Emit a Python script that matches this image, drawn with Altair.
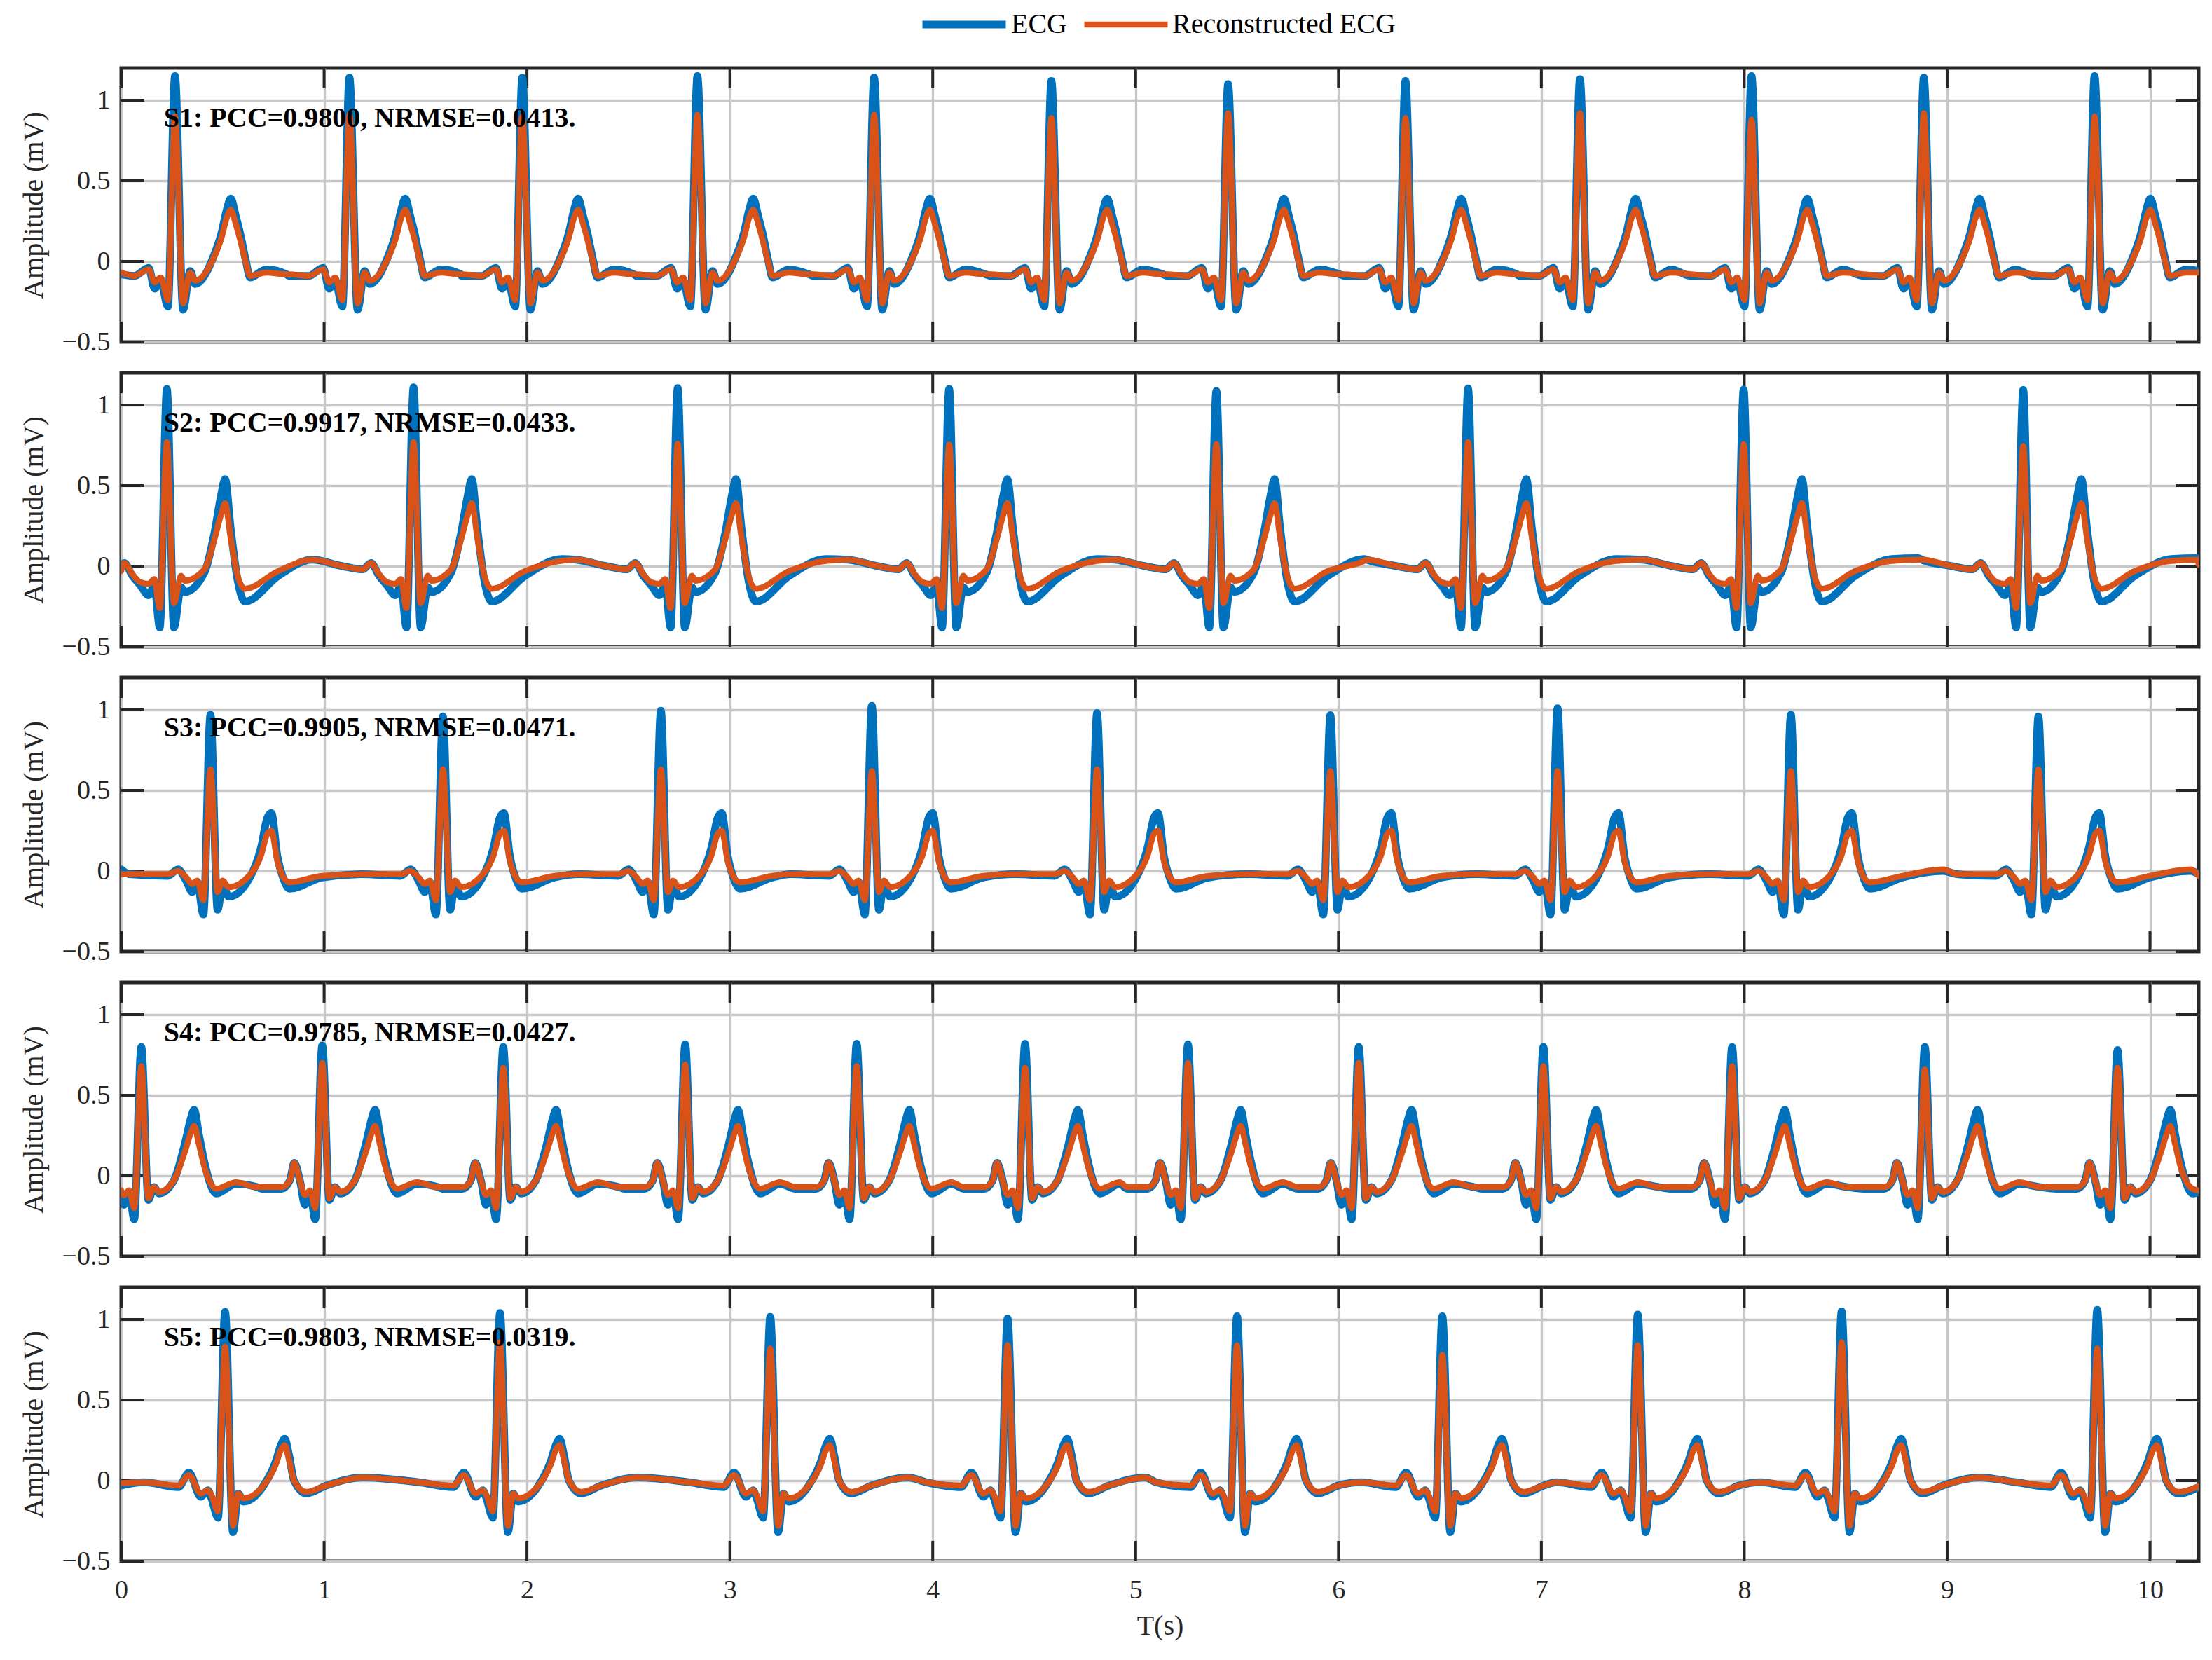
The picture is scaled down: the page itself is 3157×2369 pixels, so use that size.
import altair as alt
import pandas as pd

FONT = "Liberation Serif"
T_END = 10.24
SERIES = ["ECG", "Reconstructed ECG"]
COLORS = ["#0072BD", "#D95319"]
LINE_WIDTHS = [11, 8.5]
X_TICKS = [0, 1, 2, 3, 4, 5, 6, 7, 8, 9, 10]
Y_TICKS = [-0.5, 0, 0.5, 1]
LABELS = [
    "S1: PCC=0.9800, NRMSE=0.0413.",
    "S2: PCC=0.9917, NRMSE=0.0433.",
    "S3: PCC=0.9905, NRMSE=0.0471.",
    "S4: PCC=0.9785, NRMSE=0.0427.",
    "S5: PCC=0.9803, NRMSE=0.0319.",
]

# ---- S1 ----
P1_R = [0.265, 1.125, 1.977, 2.840, 3.711, 4.585, 5.456, 6.330, 7.190, 8.036, 8.885, 9.727]
P1_RB = [1.15, 1.14, 1.14, 1.15, 1.14, 1.12, 1.10, 1.12, 1.13, 1.15, 1.14, 1.15]
P1_RO = [0.90, 0.91, 0.90, 0.91, 0.91, 0.89, 0.92, 0.89, 0.92, 0.88, 0.92, 0.90]
P1_OFF = [-0.30, -0.20, -0.13, -0.10, -0.07, -0.035, 0.0, 0.04, 0.075, 0.10, 0.19, 0.23, 0.255, 0.275, 0.30, 0.32, 0.35, 0.37, 0.45, 0.55]
P1_TB = [-0.09, -0.09, -0.04, -0.17, -0.12, -0.28, 1.13, -0.30, -0.06, -0.14, 0.03, 0.18, 0.32, 0.39, 0.28, 0.18, 0.00, -0.10, -0.05, -0.08]
P1_TO = [-0.08, -0.09, -0.05, -0.13, -0.10, -0.24, 0.90, -0.26, -0.07, -0.12, 0.02, 0.15, 0.27, 0.32, 0.23, 0.14, -0.01, -0.09, -0.07, -0.08]
P1_START = [-0.08, -0.07]
P1_END = [-0.06, -0.07]

# ---- S2 ----
P2_R = [0.225, 1.441, 2.743, 4.081, 5.398, 6.639, 7.997, 9.375]
P2_RB = [1.10, 1.11, 1.105, 1.10, 1.087, 1.103, 1.096, 1.094]
P2_RO = [0.77, 0.77, 0.76, 0.754, 0.758, 0.77, 0.758, 0.746]
P2_OFF = [-0.50, -0.35, -0.25, -0.21, -0.17, -0.13, -0.09, -0.062, -0.035, 0.0, 0.035, 0.07, 0.088, 0.185, 0.235, 0.267, 0.287, 0.314, 0.349, 0.385, 0.55, 0.73, 0.86]
P2_TB = [0.04, 0.00, -0.02, 0.02, -0.06, -0.12, -0.18, -0.12, -0.38, 1.10, -0.38, -0.13, -0.16, -0.04, 0.21, 0.44, 0.54, 0.24, -0.09, -0.22, -0.06, 0.045, 0.05]
P2_TO = [0.04, 0.00, -0.02, 0.02, -0.05, -0.10, -0.11, -0.08, -0.26, 0.77, -0.23, -0.06, -0.09, -0.02, 0.17, 0.32, 0.39, 0.18, -0.06, -0.14, -0.03, 0.033, 0.04]
P2_START = [0.00, -0.03]
P2_END = [0.05, 0.01]

# ---- S3 ----
P3_R = [0.440, 1.586, 2.660, 3.700, 4.810, 5.960, 7.080, 8.230, 9.450]
P3_RB = [0.97, 0.96, 0.995, 1.025, 0.98, 0.967, 1.01, 0.97, 0.96]
P3_RO = [0.63, 0.63, 0.63, 0.62, 0.63, 0.62, 0.62, 0.62, 0.63]
P3_OFF = [-0.40, -0.21, -0.16, -0.12, -0.09, -0.065, -0.035, 0.0, 0.035, 0.06, 0.09, 0.19, 0.25, 0.28, 0.30, 0.33, 0.36, 0.39, 0.55, 0.75]
P3_TB = [-0.02, -0.03, 0.01, -0.06, -0.13, -0.07, -0.27, 0.97, -0.24, -0.08, -0.16, -0.05, 0.15, 0.33, 0.36, 0.09, -0.05, -0.11, -0.04, 0.00]
P3_TO = [-0.02, -0.02, 0.00, -0.04, -0.08, -0.06, -0.18, 0.63, -0.13, -0.06, -0.10, -0.03, 0.10, 0.23, 0.25, 0.06, -0.04, -0.07, -0.03, 0.01]
P3_START = [0.01, -0.02]
P3_END = [-0.02, -0.03]

# ---- S4 ----
P4_R = [0.099, 0.991, 1.883, 2.780, 3.625, 4.455, 5.258, 6.100, 7.010, 7.940, 8.890, 9.840]
P4_RB = [0.80, 0.81, 0.80, 0.816, 0.82, 0.82, 0.816, 0.80, 0.80, 0.80, 0.80, 0.78]
P4_RO = [0.68, 0.70, 0.67, 0.69, 0.68, 0.67, 0.70, 0.70, 0.68, 0.68, 0.66, 0.67]
P4_OFF = [-0.30, -0.20, -0.16, -0.138, -0.11, -0.085, -0.06, -0.035, 0.0, 0.035, 0.062, 0.088, 0.16, 0.215, 0.245, 0.26, 0.285, 0.31, 0.37, 0.467, 0.57]
P4_TB = [-0.08, -0.08, -0.03, 0.08, -0.03, -0.18, -0.10, -0.27, 0.80, -0.15, -0.07, -0.11, -0.03, 0.20, 0.36, 0.41, 0.25, 0.09, -0.11, -0.05, -0.07]
P4_TO = [-0.07, -0.07, -0.03, 0.08, -0.03, -0.12, -0.09, -0.20, 0.68, -0.14, -0.07, -0.10, -0.03, 0.15, 0.27, 0.31, 0.19, 0.06, -0.08, -0.04, -0.07]
P4_START = [-0.13, -0.09]
P4_END = [-0.10, -0.09]

# ---- S5 ----
P5_R = [0.512, 1.867, 3.199, 4.369, 5.500, 6.512, 7.475, 8.480, 9.740]
P5_RB = [1.047, 1.04, 1.016, 1.005, 1.02, 1.02, 1.03, 1.05, 1.06]
P5_RO = [0.83, 0.86, 0.82, 0.84, 0.84, 0.78, 0.84, 0.86, 0.82]
P5_OFF = [-0.40, -0.23, -0.178, -0.12, -0.085, -0.067, -0.035, 0.0, 0.039, 0.065, 0.09, 0.19, 0.25, 0.275, 0.294, 0.315, 0.34, 0.40, 0.50, 0.68]
P5_TB = [-0.01, -0.04, 0.05, -0.10, -0.06, -0.11, -0.23, 1.03, -0.32, -0.08, -0.13, -0.03, 0.12, 0.22, 0.26, 0.16, 0.00, -0.08, -0.03, 0.02]
P5_TO = [-0.01, -0.03, 0.035, -0.08, -0.06, -0.09, -0.19, 0.83, -0.28, -0.08, -0.11, -0.03, 0.10, 0.19, 0.22, 0.13, 0.00, -0.07, -0.03, 0.02]
P5_START = [-0.03, -0.015]
P5_END = [-0.04, -0.035]

PANELS = [
    (P1_R, P1_RB, P1_RO, P1_OFF, P1_TB, P1_TO, P1_START, P1_END),
    (P2_R, P2_RB, P2_RO, P2_OFF, P2_TB, P2_TO, P2_START, P2_END),
    (P3_R, P3_RB, P3_RO, P3_OFF, P3_TB, P3_TO, P3_START, P3_END),
    (P4_R, P4_RB, P4_RO, P4_OFF, P4_TB, P4_TO, P4_START, P4_END),
    (P5_R, P5_RB, P5_RO, P5_OFF, P5_TB, P5_TO, P5_START, P5_END),
]

W, H = 2965, 391
DARK = "#262626"


def build(r, rb, ro, off, tb, to, start, end):
    rows = []
    lo = min(off)
    for k, (tpl, peaks) in enumerate(((tb, rb), (to, ro))):
        pts = [(0.0, start[k])]
        for i, rt in enumerate(r):
            nxt = r[i + 1] if i + 1 < len(r) else None
            for o, v in zip(off, tpl):
                t = rt + o
                if t <= 0 or t >= T_END:
                    continue
                if nxt is not None and o > 0 and t >= nxt + lo:
                    continue
                pts.append((t, peaks[i] if o == 0 else v))
        pts.append((T_END, end[k]))
        pts.sort()
        rows += [{"t": round(t, 4), "v": v, "series": SERIES[k]} for t, v in pts]
    return pd.DataFrame(rows)


def panel(idx):
    last = idx == len(PANELS) - 1
    df = build(*PANELS[idx])
    xaxis_kw = dict(values=X_TICKS, format="d", labels=last, grid=True)
    if last:
        xaxis_kw.update(labelPadding=22, titlePadding=12)
    x_enc = alt.X(
        "t:Q",
        scale=alt.Scale(domain=[0, T_END], nice=False, zero=False),
        axis=alt.Axis(**xaxis_kw),
        title="T(s)" if last else None,
    )
    y_enc = alt.Y(
        "v:Q",
        scale=alt.Scale(domain=[-0.5, 1.2], nice=False, zero=False),
        axis=alt.Axis(values=Y_TICKS, format=".1~f", grid=True, labelPadding=16, titlePadding=20),
        title="Amplitude (mV)",
    )
    color = alt.Color(
        "series:N",
        scale=alt.Scale(domain=SERIES, range=COLORS),
        legend=alt.Legend(
            orient="none", legendX=1138, legendY=-82, direction="horizontal", title=None,
            symbolType="stroke", symbolSize=14161, symbolStrokeWidth=10, clipHeight=40,
            labelFont=FONT, labelFontSize=40, labelColor="#000000", labelLimit=2000,
            columnPadding=20, labelOffset=2, padding=0,
        ),
    )
    lines = alt.Chart(df).mark_line(
        clip=True, interpolate="monotone", strokeCap="round", strokeJoin="round"
    ).encode(
        x=x_enc, y=y_enc, color=color,
        strokeWidth=alt.StrokeWidth("series:N", scale=alt.Scale(domain=SERIES, range=LINE_WIDTHS), legend=None),
    )
    xt = pd.DataFrame({"t": X_TICKS})
    yt = pd.DataFrame({"v": Y_TICKS})
    tick_top = alt.Chart(xt).mark_rule(color=DARK, strokeWidth=4).encode(x=x_enc, y=alt.value(0), y2=alt.value(29))
    tick_bot = alt.Chart(xt).mark_rule(color=DARK, strokeWidth=4).encode(x=x_enc, y=alt.value(H - 29), y2=alt.value(H))
    tick_l = alt.Chart(yt).mark_rule(color=DARK, strokeWidth=4).encode(y=y_enc, x=alt.value(0), x2=alt.value(33))
    tick_r = alt.Chart(yt).mark_rule(color=DARK, strokeWidth=4).encode(y=y_enc, x=alt.value(W - 33), x2=alt.value(W))
    txt = alt.Chart(pd.DataFrame({"t": [0.21], "v": [0.885], "label": [LABELS[idx]]})).mark_text(
        align="left", baseline="middle", font=FONT, fontSize=40, fontWeight="bold", color="#000000"
    ).encode(x=x_enc, y=y_enc, text="label:N")
    return alt.layer(tick_top, tick_bot, tick_l, tick_r, lines, txt).properties(width=W, height=H)


chart = alt.vconcat(*[panel(i) for i in range(len(PANELS))], spacing=44, bounds="flush").resolve_scale(
    x="independent", y="independent", color="shared", strokeWidth="shared"
).resolve_legend(color="shared").properties(
    padding={"left": 17, "top": 7, "right": 5, "bottom": 5}, background="white"
).configure_view(
    stroke=DARK, strokeWidth=5
).configure_axis(
    labelFont=FONT, titleFont=FONT, labelColor=DARK, titleColor=DARK,
    labelFontSize=38, titleFontSize=40, titleFontWeight="normal",
    gridColor="#c8c8c8", gridWidth=3.3, gridOpacity=1,
    ticks=False, tickSize=0, domain=False, labelFlush=False,
)

chart.save("out.html", embed_options={"renderer": "svg", "actions": False})
